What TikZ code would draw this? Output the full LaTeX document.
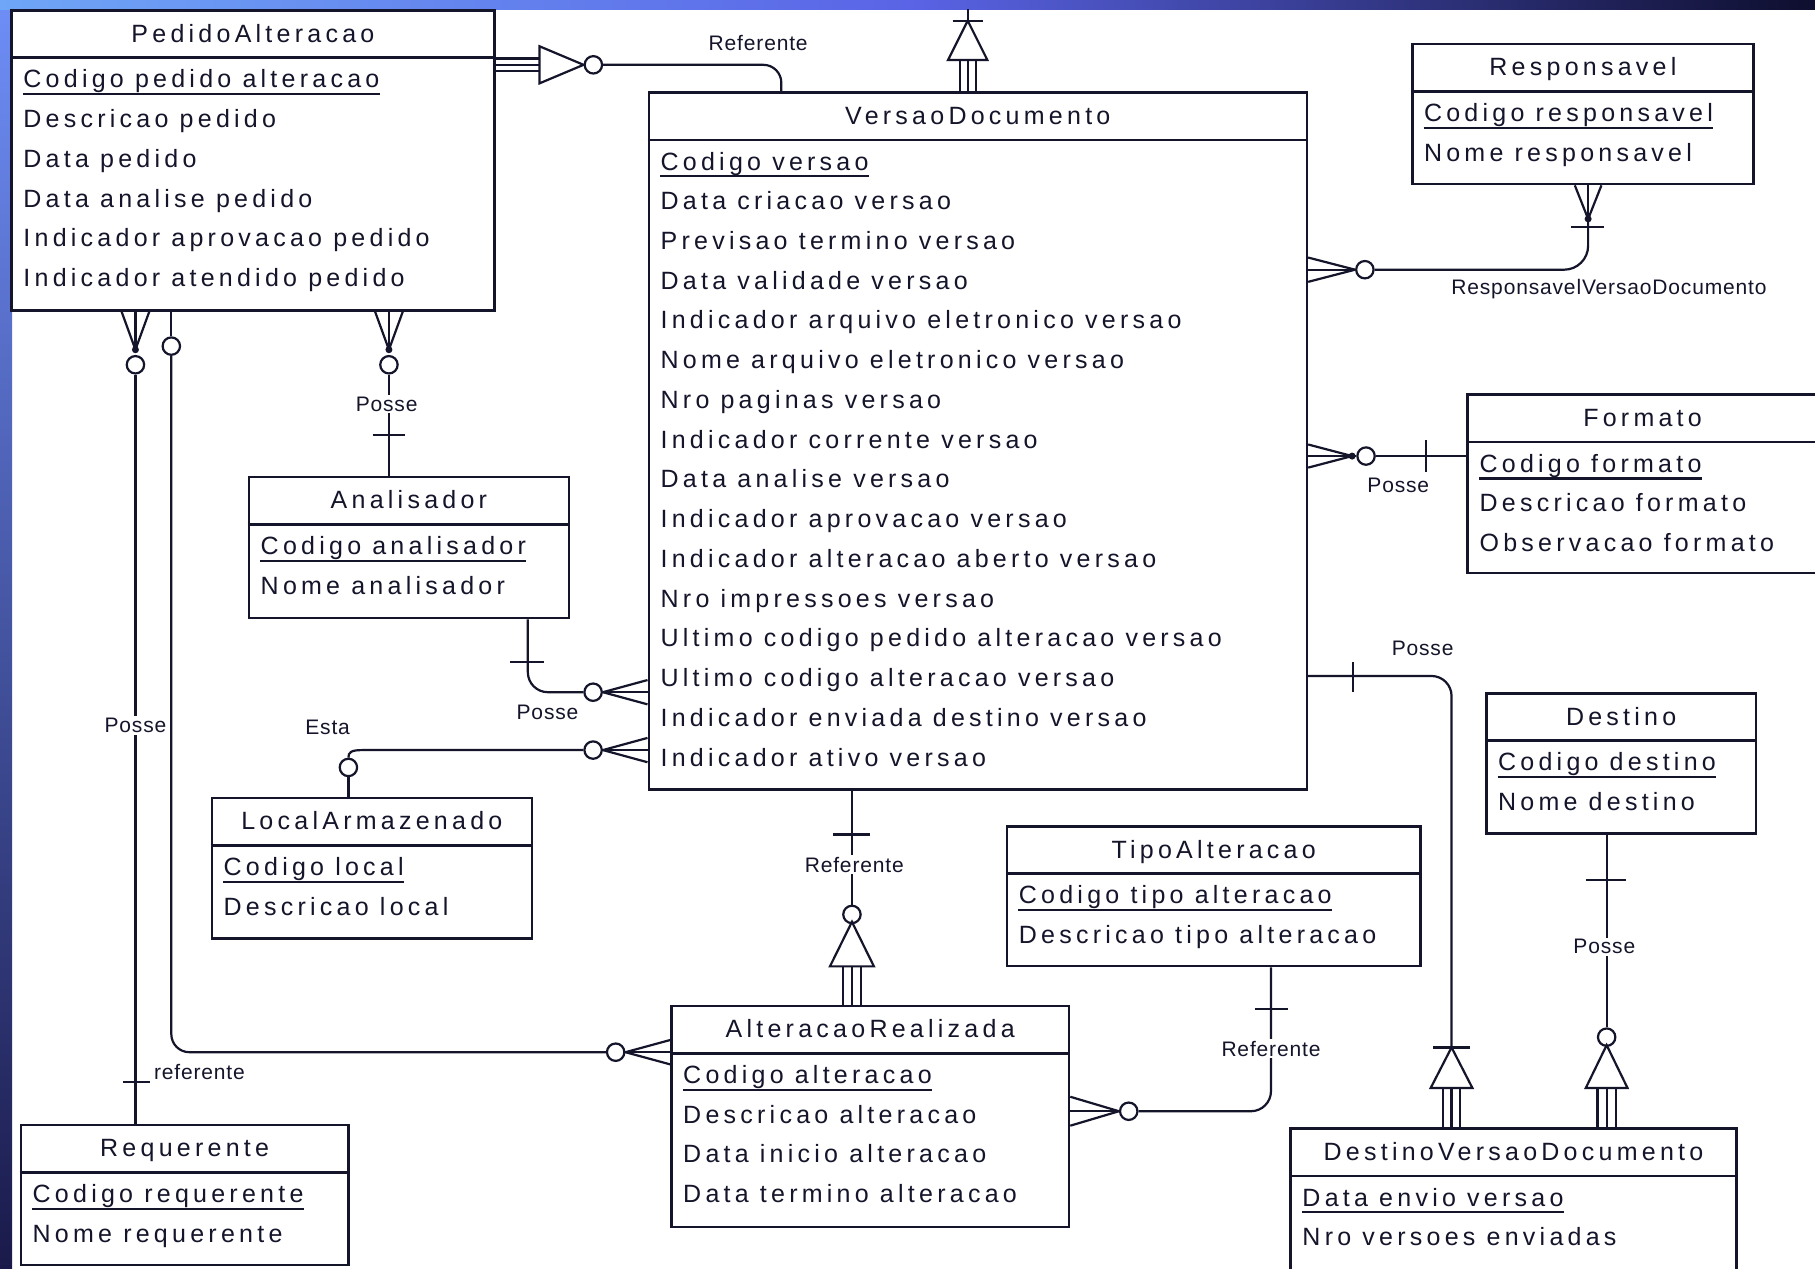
\documentclass[tikz,border=0pt]{standalone}
\usepackage{fontspec}
\usetikzlibrary{calc,fit}
\newfontfamily\erfont[LetterSpace=17]{Liberation Sans}
\newfontfamily\lblfont[LetterSpace=4]{Liberation Sans}
\definecolor{ink}{HTML}{14142A}
\definecolor{stripA}{HTML}{6FA6F7}
\definecolor{stripB}{HTML}{5A64E6}
\definecolor{stripC}{HTML}{0E0E2E}
\definecolor{sideA}{HTML}{6E8EF7}
\definecolor{sideB}{HTML}{1A1A4A}

\newcommand\entity[6]{%
  \node[ebox, fit={(#2,#3)(#4,#5)}] (#1) {};
  \draw[sepline] ($(#1.north west)+(0,42)$) -- ($(#1.north east)+(0,42)$);
  \node[etitle] (#1-t) at ($(#1.north)+(0,28.5)$) {#6};
}
\newcommand\attrs[2]{%
  \foreach \atx [count=\ai] in {#2} {
    \node[eattr] (#1-a\ai) at ($(#1.north west)+(11,{68+34.33*(\ai-1)})$) {\atx};
  }
  \draw[uline] ($(#1-a1.base west)+(0,5.5)$) -- ($(#1-a1.base east)+(0,5.5)$);
}

\begin{document}
\begin{tikzpicture}[x=0.57875pt,y=-0.57875pt,
  ebox/.style={draw=ink, line width=1.3pt, fill=white, inner sep=0pt},
  sepline/.style={draw=ink, line width=1.3pt},
  etitle/.style={anchor=base, inner sep=0pt, text=ink, font=\erfont\fontsize{12.5pt}{15pt}\selectfont},
  eattr/.style={anchor=base west, inner sep=0pt, text=ink, font=\erfont\fontsize{12.5pt}{15pt}\selectfont},
  uline/.style={draw=ink, line width=1.1pt},
  conn/.style={draw=ink, line width=1.1pt},
  lbl/.style={fill=white, inner sep=1pt, text=ink, font=\lblfont\fontsize{10.5pt}{12pt}\selectfont},
  ring/.style={circle, draw=ink, line width=1.1pt, fill=white, minimum size=8.7pt, inner sep=0pt},
  dotn/.style={circle, fill=ink, minimum size=3.5pt, inner sep=0pt},
]
\useasboundingbox (0,0) rectangle (1568,1095.5);
\clip (0,0) rectangle (1568,1095.5);
\fill[white] (0,0) rectangle (1568,1095.5);
\shade[top color=sideA, bottom color=sideB] (0,0) rectangle (10.4,1095.5);
\shade[left color=stripA, right color=stripC, middle color=stripB] (0,0) rectangle (1568,7.8);

% ---------- entities ----------
\entity{ped}{10}{9}{427}{268}{PedidoAlteracao}
\attrs{ped}{Codigo pedido alteracao,Descricao pedido,Data pedido,Data analise pedido,Indicador aprovacao pedido,Indicador atendido pedido}

\entity{vd}{560.5}{80}{1129}{682}{VersaoDocumento}
\attrs{vd}{Codigo versao,Data criacao versao,Previsao termino versao,Data validade versao,Indicador arquivo eletronico versao,Nome arquivo eletronico versao,Nro paginas versao,Indicador corrente versao,Data analise versao,Indicador aprovacao versao,Indicador alteracao aberto versao,Nro impressoes versao,Ultimo codigo pedido alteracao versao,Ultimo codigo alteracao versao,Indicador enviada destino versao,Indicador ativo versao}

\entity{resp}{1220}{38}{1515}{159}{Responsavel}
\attrs{resp}{Codigo responsavel,Nome responsavel}

\entity{fmt}{1268}{341}{1570}{495}{Formato}
\attrs{fmt}{Codigo formato,Descricao formato,Observacao formato}

\entity{ana}{215}{412}{491.5}{534}{Analisador}
\attrs{ana}{Codigo analisador,Nome analisador}

\entity{loc}{183}{689.5}{459.5}{811}{LocalArmazenado}
\attrs{loc}{Codigo local,Descricao local}

\entity{tipo}{870}{714}{1227}{834.5}{TipoAlteracao}
\attrs{tipo}{Codigo tipo alteracao,Descricao tipo alteracao}

\entity{dest}{1284}{599}{1517}{720}{Destino}
\attrs{dest}{Codigo destino,Nome destino}

\entity{ar}{580}{869}{923.5}{1060}{AlteracaoRealizada}
\attrs{ar}{Codigo alteracao,Descricao alteracao,Data inicio alteracao,Data termino alteracao}

\entity{req}{18}{972}{301}{1093}{Requerente}
\attrs{req}{Codigo requerente,Nome requerente}

\entity{dvd}{1115}{975}{1500}{1110}{DestinoVersaoDocumento}
\attrs{dvd}{Data envio versao,Nro versoes enviadas}

% ---------- C1: PedidoAlteracao -> VersaoDocumento (Referente) ----------
\coordinate (c1a) at (ped.east |- 0,56);
\foreach \dy in {-5.5,0,5.5} \draw[conn] ($(c1a)+(0,\dy)$) -- ++(38,0);
\draw[conn] ($(c1a)+(38,-16)$) -- ($(c1a)+(76,0)$) -- ($(c1a)+(38,16)$) -- cycle;
\node[ring] (c1r) at ($(c1a)+(84.5,0)$) {};
\draw[conn, rounded corners=9pt] (c1r.east) -- (675,56) -- (675,0 |- vd.north);
\node[lbl] (l1) at (655,37) {Referente};

% ---------- C2: VersaoDocumento -> (off top) ----------
\coordinate (c2a) at (836,0 |- vd.north);
\coordinate (c2e) at (836,7.8);
\foreach \dx in {-7,0,7} \draw[conn] ($(c2a)+(\dx,0)$) -- ++(0,-27);
\draw[conn] ($(c2a)+(-17,-27)$) -- ($(c2a)+(0,-61)$) -- ($(c2a)+(17,-27)$) -- cycle;
\draw[conn] ($(c2a)+(-13,-61)$) -- ++(26,0);
\draw[conn] ($(c2a)+(0,-61)$) -- (c2e);

% ---------- C3: PedidoAlteracao -> Requerente ----------
\coordinate (c3a) at (117,0 |- ped.south);
\foreach \dx in {-12,0,12} \draw[conn] ($(c3a)+(\dx,0)$) -- ($(c3a)+(0,33)$);
\node[dotn] at ($(c3a)+(0,33)$) {};
\node[ring] (c3r) at ($(c3a)+(0,46)$) {};
\draw[conn] (c3r.south) -- (117,0 |- req.north);
\draw[conn] (106,935) -- (130,935);
\node[lbl] (l3) at (117,627) {Posse};
\node[lbl, anchor=west] (l3b) at (131,926) {referente};

% ---------- C4: PedidoAlteracao -> AlteracaoRealizada ----------
\coordinate (c4a) at (148,0 |- ped.south);
\node[ring] (c4r) at (148,299) {};
\draw[conn] (c4a) -- (c4r.north);
\coordinate (c4b) at (ar.west |- 0,909);
\node[ring] (c4r2) at ($(c4b)+(-47,0)$) {};
\draw[conn, rounded corners=9pt] (c4r.south) -- (148,909) -- (c4r2.west);
\foreach \dy in {-10.5,0,10.5} \draw[conn] (c4r2.east) -- ($(c4b)+(0,\dy)$);

% ---------- C5: PedidoAlteracao -> Analisador ----------
\coordinate (c5a) at (336,0 |- ped.south);
\foreach \dx in {-12,0,12} \draw[conn] ($(c5a)+(\dx,0)$) -- ($(c5a)+(0,33)$);
\node[dotn] at ($(c5a)+(0,33)$) {};
\node[ring] (c5r) at ($(c5a)+(0,46)$) {};
\draw[conn] (c5r.south) -- (336,0 |- ana.north);
\draw[conn] (322,376) -- (350,376);
\node[lbl] (l5) at (334,349) {Posse};

% ---------- C6: Analisador -> VersaoDocumento ----------
\coordinate (c6a) at (456,0 |- ana.south);
\coordinate (c6b) at (vd.west |- 0,598);
\node[ring] (c6r) at ($(c6b)+(-47,0)$) {};
\draw[conn, rounded corners=10pt] (c6a) -- (456,598) -- (c6r.west);
\draw[conn] (441,572) -- (470,572);
\foreach \dy in {-10.5,0,10.5} \draw[conn] (c6r.east) -- ($(c6b)+(0,\dy)$);
\node[lbl] (l6) at (473,615) {Posse};

% ---------- C7: VersaoDocumento -> LocalArmazenado (Esta) ----------
\coordinate (c7b) at (vd.west |- 0,648);
\coordinate (c7a) at (301,0 |- loc.north);
\node[ring] (c7r) at ($(c7b)+(-47,0)$) {};
\node[ring] (c7r2) at (301,663) {};
\draw[conn] (c7r.west) -- (313,648) .. controls (303,648) and (301,650) .. (c7r2.north);
\draw[conn] (c7r2.south) -- (c7a);
\foreach \dy in {-10.5,0,10.5} \draw[conn] (c7r.east) -- ($(c7b)+(0,\dy)$);
\node[lbl] (l7) at (283,628) {Esta};

% ---------- C8: VersaoDocumento -> Responsavel ----------
\coordinate (c8b) at (vd.east |- 0,233);
\coordinate (c8a) at (1372,0 |- resp.south);
\node[ring] (c8r) at ($(c8b)+(49,0)$) {};
\foreach \dy in {-10.5,0,10.5} \draw[conn] (c8r.west) -- ($(c8b)+(0,\dy)$);
\draw[conn, rounded corners=12pt] (c8r.east) -- (1372,233) -- ($(c8a)+(0,29)$);
\foreach \dx in {-11.5,0,11.5} \draw[conn] ($(c8a)+(0,29)$) -- ($(c8a)+(\dx,0)$);
\node[dotn] at ($(c8a)+(0,29)$) {};
\draw[conn] (1357,196) -- (1386,196);
\node[lbl] (l8) at (1390,250) {ResponsavelVersaoDocumento};

% ---------- C9: VersaoDocumento -> Formato ----------
\coordinate (c9b) at (vd.east |- 0,394);
\node[ring] (c9r) at ($(c9b)+(50,0)$) {};
\foreach \dy in {-10,0,10} \draw[conn] ($(c9b)+(38,0)$) -- ($(c9b)+(0,\dy)$);
\node[dotn] at ($(c9b)+(38,0)$) {};
\draw[conn] ($(c9b)+(38,0)$) -- (c9r.west);
\draw[conn] (c9r.east) -- (fmt.west |- 0,394);
\draw[conn] (1232,380) -- (1232,408);
\node[lbl] (l9) at (1208,419) {Posse};

% ---------- C10: VersaoDocumento -> DestinoVersaoDocumento ----------
\coordinate (c10a) at (vd.east |- 0,584);
\coordinate (c10b) at (1254,0 |- dvd.north);
\draw[conn, rounded corners=10pt] (c10a) -- (1254,584) -- ($(c10b)+(0,-69)$);
\draw[conn] (1169,572) -- (1169,598);
\draw[conn] ($(c10b)+(-16,-69)$) -- ++(32,0);
\draw[conn] ($(c10b)+(0,-69)$) -- ($(c10b)+(18,-34)$) -- ($(c10b)+(-18,-34)$) -- cycle;
\foreach \dx in {-7.5,0,7.5} \draw[conn] ($(c10b)+(\dx,0)$) -- ++(0,-34);
\node[lbl] (l10) at (1229,560) {Posse};

% ---------- C11: Destino -> DestinoVersaoDocumento ----------
\coordinate (c11a) at (1388,0 |- dest.south);
\coordinate (c11b) at (1388,0 |- dvd.north);
\node[ring] (c11r) at (1388,896) {};
\draw[conn] (c11a) -- (c11r.north);
\draw[conn] (1370,760) -- (1405,760);
\draw[conn] ($(c11b)+(0,-71)$) -- ($(c11b)+(18,-34)$) -- ($(c11b)+(-18,-34)$) -- cycle;
\foreach \dx in {-8,0,8} \draw[conn] ($(c11b)+(\dx,0)$) -- ++(0,-34);
\node[lbl] (l11) at (1386,818) {Posse};

% ---------- C12: VersaoDocumento -> AlteracaoRealizada ----------
\coordinate (c12a) at (736,0 |- vd.south);
\coordinate (c12b) at (736,0 |- ar.north);
\node[ring] (c12r) at (736,790) {};
\draw[conn] (c12a) -- (c12r.north);
\draw[conn] (720,721) -- (752,721);
\draw[conn] ($(c12b)+(0,-71.5)$) -- ($(c12b)+(19,-33)$) -- ($(c12b)+(-19,-33)$) -- cycle;
\foreach \dx in {-8,0,8} \draw[conn] ($(c12b)+(\dx,0)$) -- ++(0,-33);
\node[lbl] (l12) at (738,747) {Referente};

% ---------- C13: TipoAlteracao -> AlteracaoRealizada ----------
\coordinate (c13a) at (1098,0 |- tipo.south);
\coordinate (c13b) at (ar.east |- 0,960);
\node[ring] (c13r) at ($(c13b)+(50.5,0)$) {};
\draw[conn, rounded corners=10pt] (c13a) -- (1098,960) -- (c13r.east);
\foreach \dy in {-12.5,0,12.5} \draw[conn] (c13r.west) -- ($(c13b)+(0,\dy)$);
\draw[conn] (1084,872) -- (1113,872);
\node[lbl] (l13) at (1098,906) {Referente};
\end{tikzpicture}
\end{document}
